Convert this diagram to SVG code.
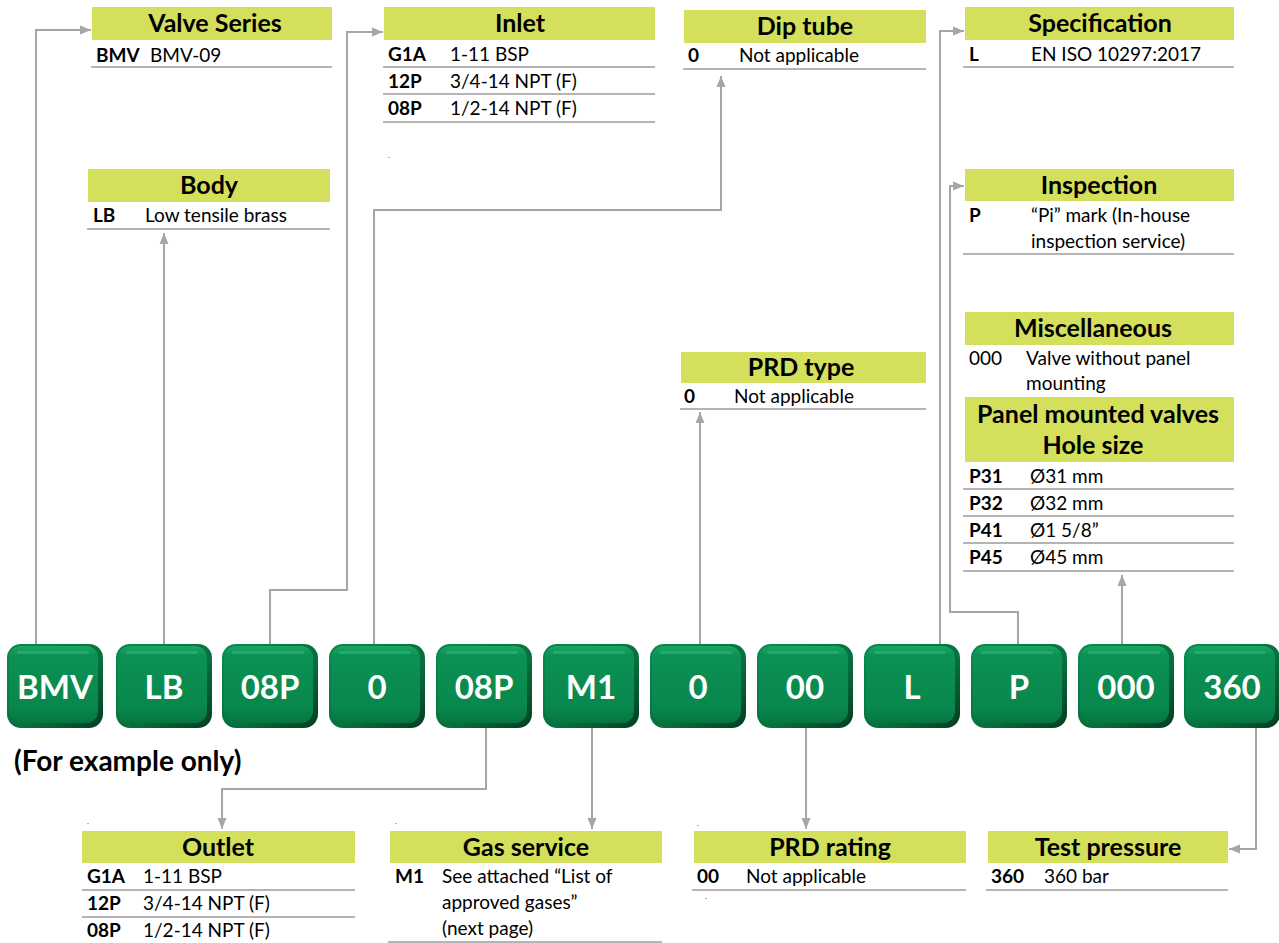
<svg xmlns="http://www.w3.org/2000/svg" xmlns:xlink="http://www.w3.org/1999/xlink" width="1279" height="943" viewBox="0 0 1279 943">
<style>
.hdr{fill:#d4e05c}
.ht{font-family:Lato,"Open Sans",sans-serif;font-weight:700;font-size:25px;fill:#000;text-anchor:middle}
.c{font-family:Lato,"Open Sans",sans-serif;font-weight:700;font-size:19px;fill:#000}
.v{font-family:Lato,"Open Sans",sans-serif;font-size:19px;fill:#000}
.ul{stroke:#b4b4b4;stroke-width:2;fill:none}
.bt{font-family:Lato,"Open Sans",sans-serif;font-weight:700;font-size:33px;fill:#fff;text-anchor:middle}
.con{stroke:#a6a6a6;stroke-width:2;fill:none;marker-end:url(#ah)}
.dot{font-family:Lato,sans-serif;font-size:8px;fill:#444}
</style>
<defs>
<marker id="ah" markerUnits="userSpaceOnUse" markerWidth="12" markerHeight="12" viewBox="0 0 12 12" refX="11" refY="6" orient="auto">
<path d="M0,1.5 L11,6 L0,10.5 Z" fill="#a6a6a6"/>
</marker>
<linearGradient id="gf" x1="0" y1="0" x2="0" y2="1">
<stop offset="0" stop-color="#1aa565"/>
<stop offset="0.12" stop-color="#0c9154"/>
<stop offset="0.8" stop-color="#08874c"/>
<stop offset="1" stop-color="#067540"/>
</linearGradient>
<linearGradient id="gr" x1="0" y1="0" x2="1" y2="1">
<stop offset="0" stop-color="#0a8a4e"/>
<stop offset="0.6" stop-color="#076e3d"/>
<stop offset="1" stop-color="#033d20"/>
</linearGradient>
<g id="gbox">
<rect x="0" y="0" width="96" height="84" rx="14" fill="url(#gr)"/>
<rect x="2" y="2" width="89" height="77" rx="12" fill="url(#gf)"/>
<rect x="10" y="7" width="72" height="3" rx="1.5" fill="#3cc082" opacity="0.45"/>
</g>
</defs>
<rect width="1279" height="943" fill="#fff"/>

<g id="connectors">
<polyline class="con" points="36,644 36,30 91,30"/>
<polyline class="con" points="164,644 164,233"/>
<polyline class="con" points="270,644 270,590 347,590 347,32 383,32"/>
<polyline class="con" points="374,644 374,210 721,210 721,76"/>
<polyline class="con" points="700,644 700,412"/>
<polyline class="con" points="940,644 940,31 964,31"/>
<polyline class="con" points="1018,644 1018,612 950,612 950,186 964,186"/>
<polyline class="con" points="1122,644 1122,575"/>
<polyline class="con" points="486,728 486,789 222,789 222,829"/>
<polyline class="con" points="592,728 592,829"/>
<polyline class="con" points="806,728 806,829"/>
<polyline class="con" points="1256,728 1256,849 1229,849"/>
</g>

<g id="code-boxes">
<g id="box-bmv" transform="translate(7,644)"><use href="#gbox"/><text class="bt" x="48" y="55">BMV</text></g>
<g id="box-lb" transform="translate(116,644)"><use href="#gbox"/><text class="bt" x="48" y="55">LB</text></g>
<g id="box-08p-in" transform="translate(222,644)"><use href="#gbox"/><text class="bt" x="48" y="55">08P</text></g>
<g id="box-0-dip" transform="translate(329,644)"><use href="#gbox"/><text class="bt" x="48" y="55">0</text></g>
<g id="box-08p-out" transform="translate(436,644)"><use href="#gbox"/><text class="bt" x="48" y="55">08P</text></g>
<g id="box-m1" transform="translate(543,644)"><use href="#gbox"/><text class="bt" x="48" y="55">M1</text></g>
<g id="box-0-prd" transform="translate(650,644)"><use href="#gbox"/><text class="bt" x="48" y="55">0</text></g>
<g id="box-00" transform="translate(757,644)"><use href="#gbox"/><text class="bt" x="48" y="55">00</text></g>
<g id="box-l" transform="translate(864,644)"><use href="#gbox"/><text class="bt" x="48" y="55">L</text></g>
<g id="box-p" transform="translate(971,644)"><use href="#gbox"/><text class="bt" x="48" y="55">P</text></g>
<g id="box-000" transform="translate(1078,644)"><use href="#gbox"/><text class="bt" x="48" y="55">000</text></g>
<g id="box-360" transform="translate(1184,644)"><use href="#gbox"/><text class="bt" x="48" y="55">360</text></g>
</g>

<text x="14" y="771" font-family="Lato,'Open Sans',sans-serif" font-weight="700" font-size="28" fill="#000">(For example only)</text>

<g id="valve-series">
<rect class="hdr" x="92" y="7" width="240" height="33"/>
<text class="ht" x="215" y="32">Valve Series</text>
<text class="c" x="96" y="62">BMV</text><text class="v" x="150" y="62">BMV-09</text>
<line class="ul" x1="91" y1="67" x2="332" y2="67"/>
</g>

<g id="body">
<rect class="hdr" x="88" y="169" width="242" height="33"/>
<text class="ht" x="209" y="194">Body</text>
<text class="c" x="93" y="222">LB</text><text class="v" x="145" y="222">Low tensile brass</text>
<line class="ul" x1="87" y1="229" x2="330" y2="229"/>
</g>

<g id="inlet">
<rect class="hdr" x="384" y="7" width="271" height="33"/>
<text class="ht" x="520" y="32">Inlet</text>
<text class="c" x="388" y="61">G1A</text><text class="v" x="450" y="61">1-11 BSP</text>
<line class="ul" x1="383" y1="67" x2="655" y2="67"/>
<text class="c" x="388" y="88">12P</text><text class="v" x="450" y="88">3/4-14 NPT (F)</text>
<line class="ul" x1="383" y1="94" x2="655" y2="94"/>
<text class="c" x="388" y="115">08P</text><text class="v" x="450" y="115">1/2-14 NPT (F)</text>
<line class="ul" x1="383" y1="122" x2="655" y2="122"/>
<text class="dot" x="388" y="158">.</text>
</g>

<g id="dip-tube">
<rect class="hdr" x="684" y="10" width="242" height="33"/>
<text class="ht" x="805" y="35">Dip tube</text>
<text class="c" x="688" y="62">0</text><text class="v" x="739" y="62">Not applicable</text>
<line class="ul" x1="683" y1="69" x2="926" y2="69"/>
</g>

<g id="specification">
<rect class="hdr" x="965" y="7" width="269" height="33"/>
<text class="ht" x="1100" y="32">Specification</text>
<text class="c" x="969" y="61">L</text><text class="v" x="1031" y="61">EN ISO 10297:2017</text>
<line class="ul" x1="963" y1="67" x2="1234" y2="67"/>
</g>

<g id="inspection">
<rect class="hdr" x="965" y="169" width="269" height="32"/>
<text class="ht" x="1099" y="194">Inspection</text>
<text class="c" x="969" y="222">P</text><text class="v" x="1031" y="222">“Pi” mark (In-house</text>
<text class="v" x="1031" y="248">inspection service)</text>
<line class="ul" x1="963" y1="254" x2="1234" y2="254"/>
</g>

<g id="miscellaneous">
<rect class="hdr" x="965" y="312" width="269" height="33"/>
<text class="ht" x="1093" y="337">Miscellaneous</text>
<text class="v" x="969" y="365">000</text><text class="v" x="1026" y="365">Valve without panel</text>
<text class="v" x="1026" y="390">mounting</text>
<rect class="hdr" x="965" y="397" width="269" height="65"/>
<text class="ht" x="1098" y="423">Panel mounted valves</text>
<text class="ht" x="1093" y="454">Hole size</text>
<text class="c" x="969" y="483">P31</text><text class="v" x="1030" y="483">Ø31 mm</text>
<line class="ul" x1="963" y1="489" x2="1234" y2="489"/>
<text class="c" x="969" y="510">P32</text><text class="v" x="1030" y="510">Ø32 mm</text>
<line class="ul" x1="963" y1="516" x2="1234" y2="516"/>
<text class="c" x="969" y="537">P41</text><text class="v" x="1030" y="537">Ø1 5/8”</text>
<line class="ul" x1="963" y1="543" x2="1234" y2="543"/>
<text class="c" x="969" y="564">P45</text><text class="v" x="1030" y="564">Ø45 mm</text>
<line class="ul" x1="963" y1="571" x2="1234" y2="571"/>
</g>

<g id="prd-type">
<rect class="hdr" x="681" y="352" width="245" height="31"/>
<text class="ht" x="801" y="376">PRD type</text>
<text class="c" x="684" y="403">0</text><text class="v" x="734" y="403">Not applicable</text>
<line class="ul" x1="680" y1="409" x2="926" y2="409"/>
</g>

<g id="outlet">
<rect class="hdr" x="82" y="831" width="273" height="32"/>
<text class="ht" x="218" y="856">Outlet</text>
<text class="c" x="87" y="883">G1A</text><text class="v" x="143" y="883">1-11 BSP</text>
<line class="ul" x1="82" y1="890" x2="355" y2="890"/>
<text class="c" x="87" y="910">12P</text><text class="v" x="143" y="910">3/4-14 NPT (F)</text>
<line class="ul" x1="82" y1="917" x2="355" y2="917"/>
<text class="c" x="87" y="937">08P</text><text class="v" x="143" y="937">1/2-14 NPT (F)</text>
<text class="dot" x="87" y="824">.</text>
</g>

<g id="gas-service">
<rect class="hdr" x="390" y="831" width="272" height="32"/>
<text class="ht" x="526" y="856">Gas service</text>
<text class="c" x="395" y="883">M1</text><text class="v" x="442" y="883">See attached “List of</text>
<text class="v" x="442" y="909">approved gases”</text>
<text class="v" x="442" y="935">(next page)</text>
<line class="ul" x1="388" y1="942" x2="662" y2="942"/>
<text class="dot" x="395" y="824">.</text>
</g>

<g id="prd-rating">
<rect class="hdr" x="694" y="831" width="272" height="32"/>
<text class="ht" x="830" y="856">PRD rating</text>
<text class="c" x="697" y="883">00</text><text class="v" x="746" y="883">Not applicable</text>
<line class="ul" x1="692" y1="890" x2="966" y2="890"/>
<text class="dot" x="697" y="826">.</text>
<text class="dot" x="705" y="899">.</text>
</g>

<g id="test-pressure">
<rect class="hdr" x="988" y="831" width="240" height="32"/>
<text class="ht" x="1108" y="856">Test pressure</text>
<text class="c" x="991" y="883">360</text><text class="v" x="1044" y="883">360 bar</text>
<line class="ul" x1="986" y1="890" x2="1228" y2="890"/>
</g>
</svg>
